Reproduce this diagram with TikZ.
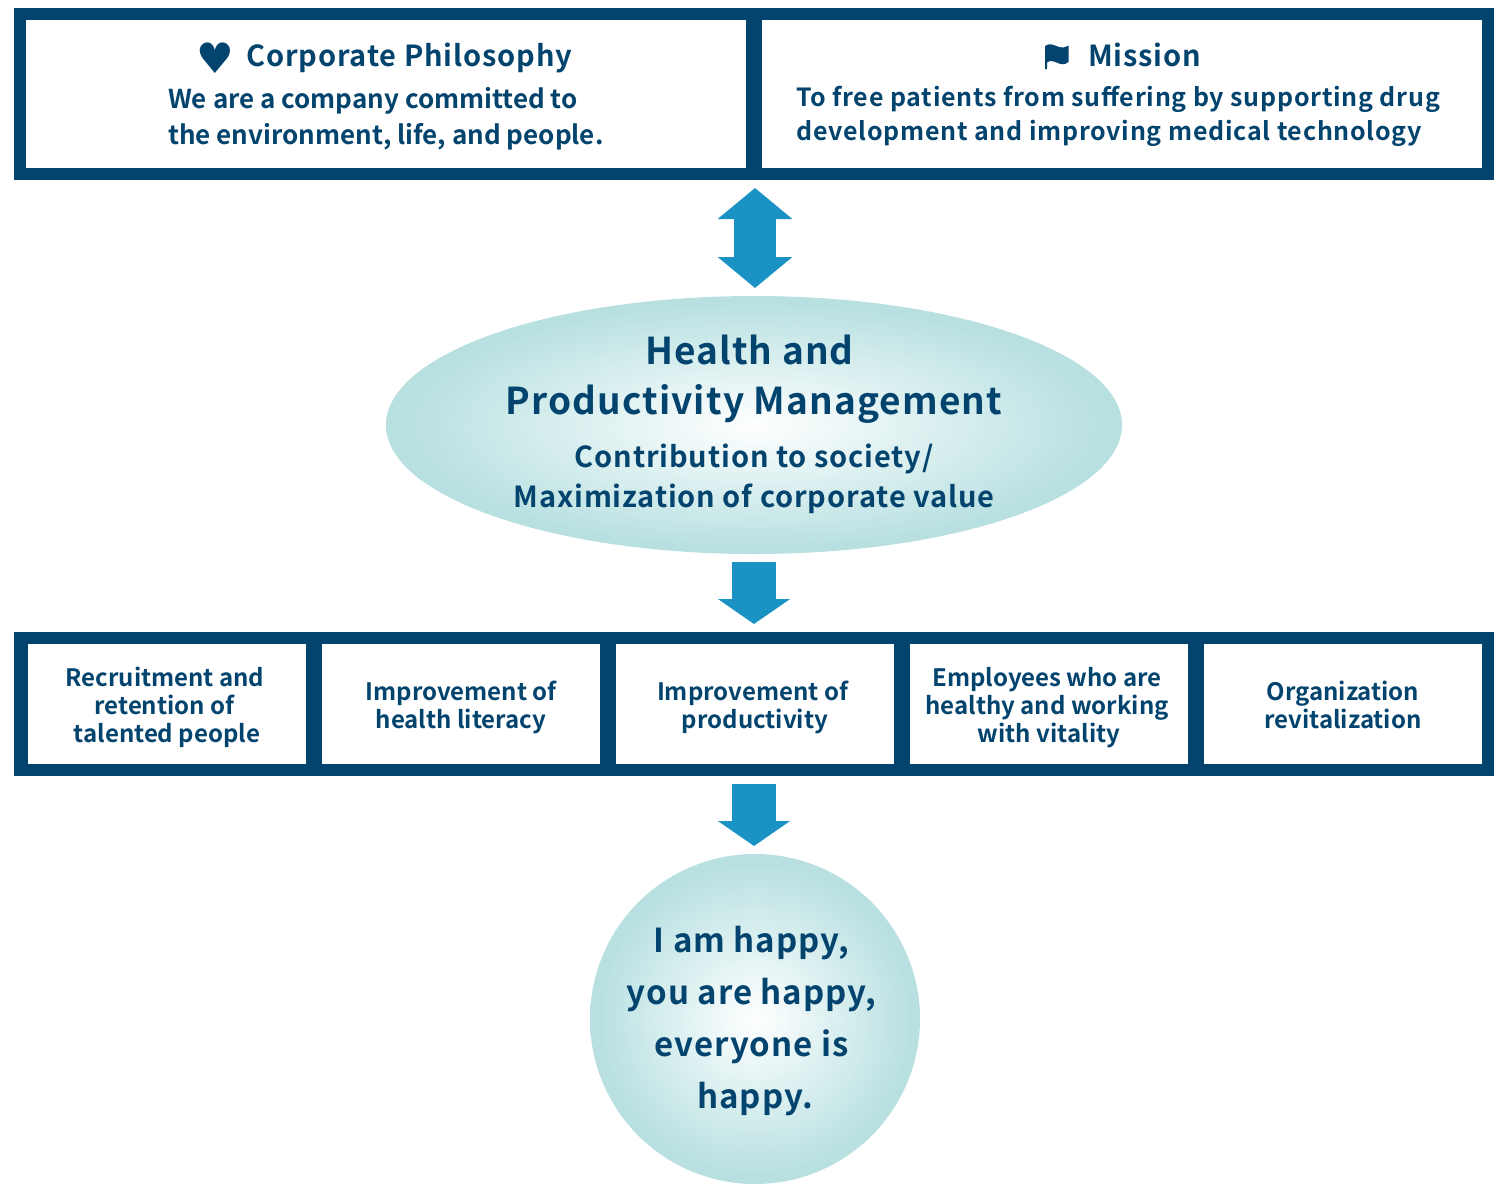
\documentclass[tikz,border=0pt]{standalone}
\usepackage{fontspec}
\setsansfont{Noto Sans CJK JP}[BoldFont=* Bold]
\newfontfamily\spacedfont{Noto Sans CJK JP Bold}[LetterSpace=3]
\newfontfamily\symbolfont{DejaVu Sans}
\usetikzlibrary{shapes.geometric, arrows.meta, positioning}
\definecolor{navy}{HTML}{03446E}
\definecolor{azure}{HTML}{1A92C4}
\definecolor{seafoam}{HTML}{B8E0E1}
\pgfdeclareradialshading{softfoam}{\pgfpointorigin}{color(0bp)=(white); color(24bp)=(seafoam); color(50bp)=(seafoam)}
\newcommand{\lowlines}[1]{\rule{0pt}{26pt}#1\rule[-6pt]{0pt}{0pt}}
\newcommand{\happylines}[1]{\rule{0pt}{34pt}#1\rule[-12pt]{0pt}{0pt}}
\newcommand{\tailgap}[1]{\hbox to #1{}}

\begin{document}
\begin{tikzpicture}[
        x=1pt, y=-1pt,
        font=\sffamily\bfseries,
        text=navy,
        frame/.style={rectangle, fill=navy, inner sep=0pt, outer sep=0pt, minimum width=1480pt},
        base/.style={rectangle, fill=white, inner sep=0pt, outer sep=0pt, align=center},
        topbox/.style={base, minimum width=720pt, minimum height=148pt},
        lowbox/.style={base, minimum width=278pt, minimum height=120pt, font=\sffamily\bfseries\fontsize{24}{28}\selectfont},
        head/.style={inner sep=0pt, anchor=base west, font=\spacedfont\fontsize{29}{35}\selectfont},
        body/.style={inner sep=0pt, anchor=west, align=left, font=\sffamily\bfseries\fontsize{26}{36}\selectfont},
        glowing/.style={inner sep=0pt, outer sep=0pt, shading=softfoam, align=center},
        bar/.style={line width=44pt, color=azure, shorten >=8pt, shorten <=8pt},
        arrow/.style={bar, -{Triangle[width=71pt,length=25pt]}},
        twoway/.style={bar, line width=42pt, {Triangle[width=73pt,length=31pt]}-{Triangle[width=73pt,length=31pt]}}
    ]
    \useasboundingbox (0,0) rectangle (1510,1192);

    % Top row
    \node[frame, minimum height=172pt] (topFrame) at (754,94) {};
    \node[topbox] (philosophy) at (386,94) {};
    \node[topbox, right=16pt of philosophy] (mission) {};
    \node[head] (philosophyHead) at (246,66.5) {Corporate Philosophy};
    \node[head, font=\symbolfont\fontsize{42}{42}\selectfont, left=12pt of philosophyHead.west] (heart) {♥};
    \node[body] (philosophyText) at (168,119) {We are a company committed to\\the environment, life, and people.};
    \node[head] (missionHead) at (1088,66.5) {Mission};
    \fill[navy] (1045,69) -- (1045,46) .. controls (1053,40) and (1059,52) .. (1068.5,45.5) -- (1068.5,62) .. controls (1060,69) and (1054,57) .. (1047,62.5) -- (1047,69) -- cycle;
    \node[body, font=\spacedfont\fontsize{25}{34}\selectfont] (missionText) at (796,116.5) {To free patients from suffering by supporting drug\\development and improving medical technology};

    % Ellipse
    \node[glowing, ellipse, minimum width=736pt, minimum height=258pt] (management) at (754,425) {};
    \node[inner sep=0pt, align=center, font=\spacedfont\fontsize{37}{50}\selectfont] (managementHead) at (754,379) {Health and\tailgap{9pt}\\Productivity Management};
    \node[inner sep=0pt, align=center, font=\spacedfont\fontsize{29}{40}\selectfont] (managementText) at (754,478.5) {Contribution to society/\\Maximization of corporate value};

    % Bottom row
    \node[frame, minimum height=144pt] (lowFrame) at (754,704) {};
    \node[lowbox] (talent) at (167,704) {\lowlines{Recruitment and\tailgap{4pt}\\retention of\tailgap{5pt}\\talented people}};
    \node[lowbox, right=16pt of talent] (literacy) {\lowlines{Improvement of\\health literacy}};
    \node[lowbox, right=16pt of literacy] (productivity) {\lowlines{Improvement of\tailgap{5pt}\\productivity}};
    \node[lowbox, right=16pt of productivity] (vitality) {\lowlines{Employees who are\tailgap{4pt}\\healthy and working\tailgap{4pt}\\with vitality}};
    \node[lowbox, right=16pt of vitality] (organization) {\lowlines{Organization\\revitalization}};

    % Circle
    \node[glowing, circle, minimum size=330pt, font=\spacedfont\fontsize{33}{52}\selectfont] (happy) at (755,1019)
        {\happylines{I am happy,\tailgap{7pt}\\you are happy,\tailgap{7pt}\\everyone is\tailgap{7pt}\\happy.}};

    % Arrows
    \draw[twoway] ([xshift=1pt]topFrame.south) -- ([xshift=1pt]management.north);
    \draw[arrow] (management.south) -- (lowFrame.north);
    \draw[arrow] (lowFrame.south) -- (lowFrame.south |- happy.north);

\end{tikzpicture}
\end{document}
